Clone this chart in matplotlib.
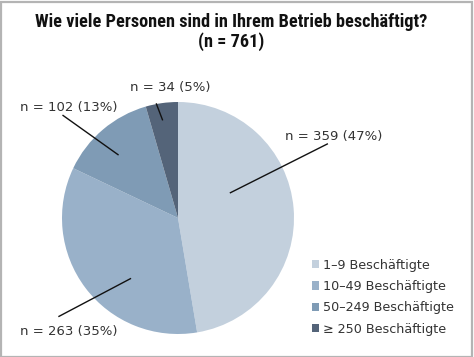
import matplotlib
matplotlib.use("Agg")
import matplotlib.pyplot as plt
from matplotlib.patches import Rectangle

categories = ["1–9 Beschäftigte", "10–49 Beschäftigte", "50–249 Beschäftigte", "≥ 250 Beschäftigte"]
counts = [359, 263, 102, 34]
percents = [47, 35, 13, 5]
total = 761
title_lines = ["Wie viele Personen sind in Ihrem Betrieb beschäftigt?", "(n = {})".format(total)]

colors = ["#c3d0dd", "#99b1c9", "#7f9bb5", "#546479"]
# label positions (radius units): text centre, line outer end, line inner end
text_pos = [(1.341, 0.703), (-0.942, -0.978), (-0.944, 0.951), (-0.068, 1.123)]
line_out = [(1.287, 0.638), (-1.026, -0.848), (-0.991, 0.884), (-0.186, 0.983)]
line_in = [(0.452, 0.218), (-0.410, -0.523), (-0.517, 0.546), (-0.134, 0.847)]

W, H = 474, 357
fig = plt.figure(figsize=(W / 100, H / 100), dpi=100)
fig.patch.set_facecolor("white")

fig.add_artist(Rectangle((0.5 / W, 0.5 / H), 1 - 2.5 / W, 1 - 2.5 / H, transform=fig.transFigure,
                         fill=False, edgecolor="#b4b4b4", linewidth=1.6))

renderer = fig.canvas.get_renderer()
tfont = dict(fontweight="bold", family=["Roboto Condensed", "Open Sans", "DejaVu Sans"],
             fontstretch="condensed", color="#111111", ha="center", va="center")
t1 = fig.text(231.5 / W, 1 - 21.7 / H, title_lines[0], fontsize=13, **tfont)
w = t1.get_window_extent(renderer).width
fs = 13 * 390.0 / w
t1.set_fontsize(fs)
fig.text(231.5 / W, 1 - 41.7 / H, title_lines[1], fontsize=fs, **tfont)

ax = fig.add_axes([62 / W, 1 - 334 / H, 232 / W, 232 / H])
wedges, _ = ax.pie(counts, colors=colors, startangle=90, counterclock=False, radius=1,
                   wedgeprops=dict(linewidth=0))
ax.set_xlim(-1, 1)
ax.set_ylim(-1, 1)
ax.set_aspect("equal")
ax.axis("off")

for c, p, tp, lo, li in zip(counts, percents, text_pos, line_out, line_in):
    ax.plot([lo[0], li[0]], [lo[1], li[1]], color="#111111", linewidth=1.0, clip_on=False)
    ax.text(tp[0], tp[1], "n = {} ({}%)".format(c, p), ha="center", va="center",
            fontsize=9.5, family=["DejaVu Sans"], color="#333333", clip_on=False)

handles = [Rectangle((0, 0), 1, 1, facecolor=col, edgecolor="none") for col in colors]
fig.legend(handles, categories, loc="upper left", bbox_to_anchor=(311.5 / W, 1 - 258.5 / H),
           frameon=False, borderpad=0, borderaxespad=0, handlelength=0.62, handleheight=0.62,
           handletextpad=0.3, labelspacing=0.66, prop=dict(family="DejaVu Sans", size=9.2),
           labelcolor="#333333")

fig.savefig("out.png", dpi=100, facecolor="white")
